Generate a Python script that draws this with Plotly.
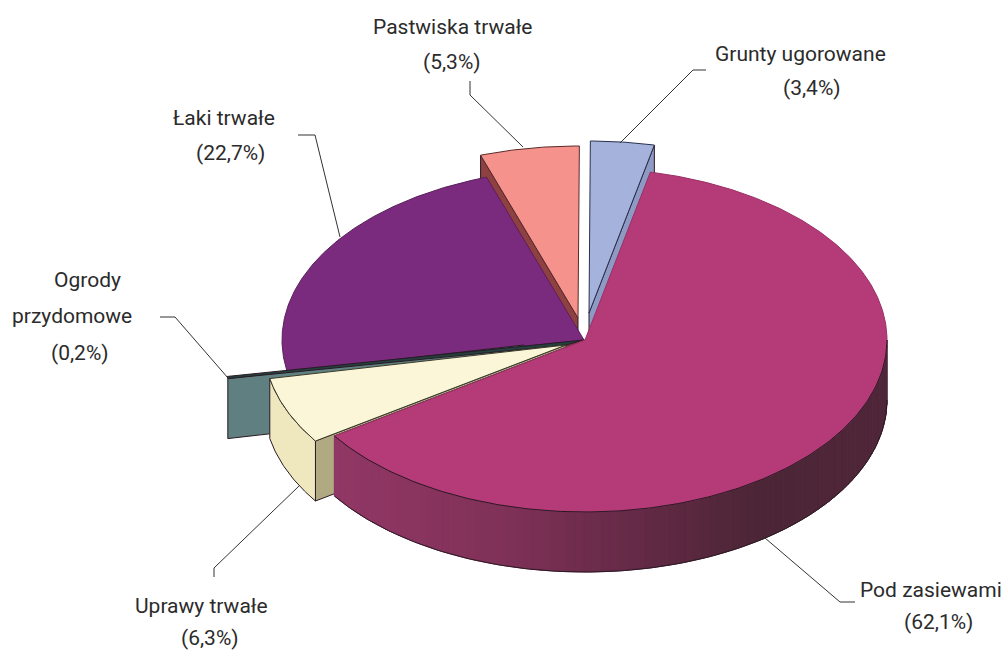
import numpy as np
import plotly.graph_objects as go

# --- data ---
categories = ["Pod zasiewami", "Uprawy trwałe", "Ogrody przydomowe", "Łąki trwałe", "Pastwiska trwałe", "Grunty ugorowane"]
label_names = ["Pod zasiewami", "Uprawy trwałe", "Ogrody\nprzydomowe", "Łaki trwałe", "Pastwiska trwałe", "Grunty ugorowane"]
values = [62.1, 6.3, 0.2, 22.7, 5.3, 3.4]

# --- styles and geometry ---
top_colors = ["#B53A78", "#FBF6D8", "#24403F", "#7A2B7E", "#F5928C", "#A5B3DC"]
top_edges = ["#9A3066", "#3A3A2A", "#24403F", "#5A1F5C", "#5A2A2A", "#2A2F50"]
side_colors = [None, "#EFE8BF", "#5F7F80", "#5A1F5C", "#A04A4A", "#8D9BC4"]
cut_colors = ["#8F3663", "#B0A982", "#5F7F80", "#5A1F5C", "#8F4040", "#8D9BC4"]
explode_dx = [0, -19, -61, -1, -7, 4]
explode_dy = [0, 5, 5, 0, -22, -27]
CX, CY, RX, RY, DEPTH = 585, 340, 302, 172, 60
START = 12.5
EDGE = "#2A1A24"
W, H = 1003, 650

leaders = [
    [(765, 538), (840, 602), (855, 602)],
    [(299, 486), (214, 568), (214, 577)],
    [(228, 378), (175, 317), (160, 317)],
    [(340, 237), (315, 135), (298, 135)],
    [(523, 147), (470, 95), (470, 81)],
    [(620, 143), (693, 70), (706, 70)],
]
label_pos = [
    [(931, 590), (938, 622)],
    [(201, 606), (210, 638)],
    [(87, 280), (72, 316), (80, 353)],
    [(224, 118), (230, 153)],
    [(452, 27), (452, 62)],
    [(800, 54), (812, 88)],
]

# --- angular extents from values ---
ends = START + np.cumsum(values) * 3.6
starts = np.concatenate([[START], ends[:-1]])


def rim(a, i, z=0):
    a = np.radians(a)
    return (CX + explode_dx[i] + RX * np.sin(a), CY + explode_dy[i] - RY * np.cos(a) + z)


def apex(i, z=0):
    return CX + explode_dx[i], CY + explode_dy[i] + z


fig = go.Figure()


def poly(xs, ys, fill, line=EDGE, width=1):
    fig.add_trace(go.Scatter(x=list(xs), y=list(ys), mode="lines", fill="toself", fillcolor=fill,
                             line=dict(color=line, width=width), hoverinfo="skip", showlegend=False))


def stroke(xs, ys):
    fig.add_trace(go.Scatter(x=list(xs), y=list(ys), mode="lines", line=dict(color=EDGE, width=1),
                             hoverinfo="skip", showlegend=False))


def cut_wall(i, a):
    x, y = rim(a, i)
    ax, ay = apex(i)
    poly([x, ax, ax, x, x], [y, ay, ay + DEPTH, y + DEPTH, y], cut_colors[i])


def rim_wall(i, a0, a1):
    t = np.linspace(a0, a1, 60)
    x, y = rim(t, i)
    poly(np.r_[x, x[::-1], x[0]], np.r_[y, y[::-1] + DEPTH, y[0]], side_colors[i])


def top(i):
    t = np.linspace(starts[i], ends[i], max(4, int(values[i] * 8)))
    x, y = rim(t, i)
    ax, ay = apex(i)
    poly(np.r_[ax, x, ax], np.r_[ay, y, ay], top_colors[i], line=top_edges[i])


# Grunty ugorowane
cut_wall(5, ends[5])
top(5)
# Pastwiska trwałe
cut_wall(4, starts[4])
top(4)
# Łąki trwałe
top(3)
# Ogrody przydomowe: slab wall and sliver running into the centre
cut_wall(2, starts[2])
x0, y0 = rim(starts[2], 2)
x1, y1 = rim(ends[2], 2)
a3x, a3y = apex(3)
a1x, a1y = apex(1)
poly([x0, x1, a3x, a1x, x0], [y0, y1, a3y, a1y, y0], top_colors[2])
# Uprawy trwałe
cut_wall(1, starts[1])
rim_wall(1, starts[1], ends[1])
top(1)
# Pod zasiewami: shaded rim
cut_wall(0, ends[0])
seg = np.linspace(ends[0], 90, 90)
xs_stop = [335, 500, 640, 760, 890]
rgb_stop = [(146, 56, 102), (128, 50, 88), (100, 42, 70), (76, 38, 54), (80, 38, 58)]
for a0, a1 in zip(seg[:-1], seg[1:]):
    t = np.array([a0, a1])
    x, y = rim(t, 0)
    mid = x.mean()
    c = [np.interp(mid, xs_stop, [r[k] for r in rgb_stop]) for k in range(3)]
    col = "rgb(%d,%d,%d)" % tuple(c)
    poly([x[0], x[1], x[1], x[0], x[0]], [y[0], y[1], y[1] + DEPTH, y[0] + DEPTH, y[0]], col, line=col)
t = np.linspace(ends[0], 90, 200)
x, y = rim(t, 0)
stroke(x, y + DEPTH)
top(0)
stroke(x, y)

# Leaders
shapes = []
for pts in leaders:
    path = "M " + " L ".join(f"{px},{py}" for px, py in pts)
    shapes.append(dict(type="path", path=path, xref="x", yref="y", line=dict(color="#333333", width=1)))

# Labels
annotations = []
for name, val, pos in zip(label_names, values, label_pos):
    lines = name.split("\n") + ["(" + f"{val:.1f}".replace(".", ",") + "%)"]
    for text, (px, py) in zip(lines, pos):
        annotations.append(dict(x=px, y=py, text=text, xref="x", yref="y", showarrow=False,
                                xanchor="center", yanchor="middle",
                                font=dict(family="Roboto", size=21, color="#2B2B2B")))

fig.update_layout(
    width=W, height=H, margin=dict(l=0, r=0, t=0, b=0),
    paper_bgcolor="white", plot_bgcolor="white", showlegend=False,
    xaxis=dict(range=[0, W], visible=False, fixedrange=True),
    yaxis=dict(range=[H, 0], visible=False, fixedrange=True),
    shapes=shapes, annotations=annotations,
)
fig.write_html("out.html", config={"displayModeBar": False},
               post_script="document.body.style.margin='0';document.body.style.overflow='hidden';")
